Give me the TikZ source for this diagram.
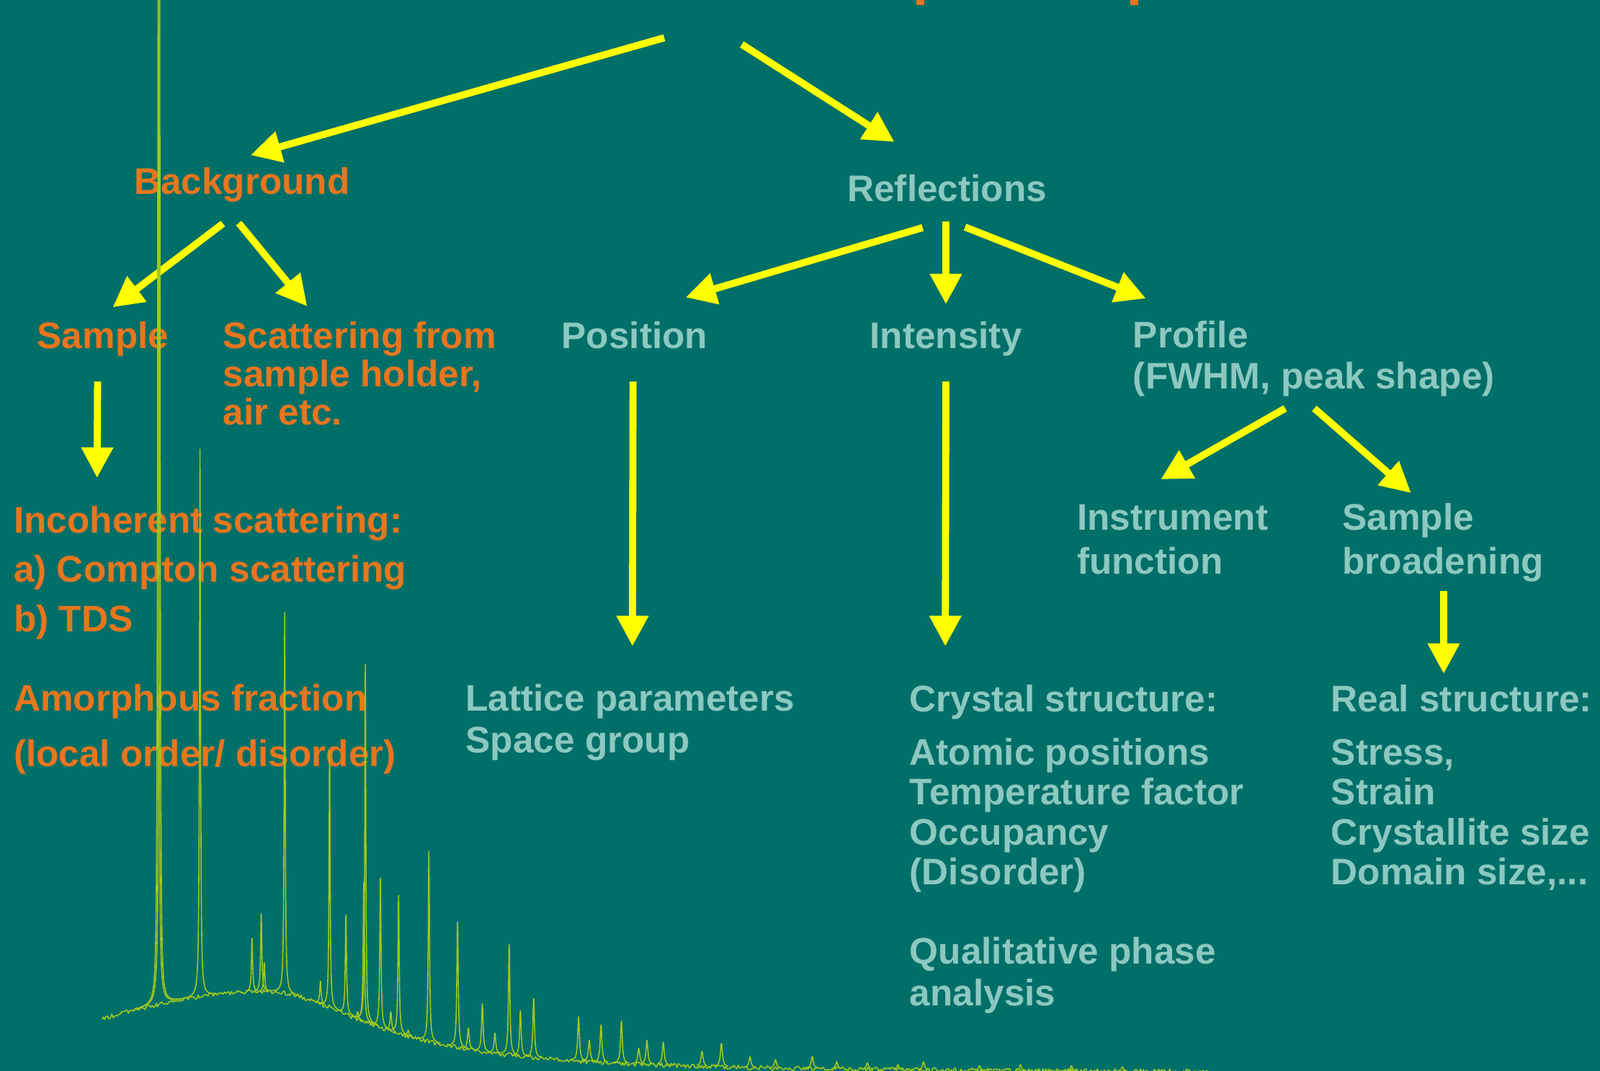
\documentclass[tikz,border=0pt]{standalone}
\usepackage{fontspec}
\setmainfont{Liberation Sans}
\usetikzlibrary{arrows.meta,calc}
\definecolor{bgteal}{RGB}{0,111,104}
\definecolor{hdorange}{RGB}{232,118,30}
\definecolor{lightteal}{RGB}{140,200,192}
\definecolor{arryellow}{RGB}{255,255,0}
\definecolor{specgreen}{RGB}{160,200,30}
\begin{document}
\begin{tikzpicture}[x=0.014165cm,y=-0.014165cm,
  lbl/.style={anchor=base west, inner sep=0pt, align=left,
    font=\fontsize{14.6}{#1}\selectfont\bfseries},
  lbl/.default=16,
  bgtxt/.style={lbl=#1, text=hdorange},
  bgtxt/.default=16,
  rftxt/.style={lbl=#1, text=lightteal},
  rftxt/.default=16,
  arr/.style={draw=arryellow, line width=2.8pt, -{Triangle[length=12pt,width=12pt]}},
  spec/.style={draw=specgreen, line width=0.45pt, line join=round},
  declare function={bgline(\x)=(\x<260)*(1051-80*exp(-((\x-260)/250)^2))+(\x>=260)*(1051-80/(1+((\x-260)/127)^2));}]
\useasboundingbox (0,0) rectangle (1568,1049);
\fill[bgteal] (0,0) rectangle (1568,1049);
% foot of the cut-off title
\fill[hdorange] (898,0) rectangle (905.5,4.7);
\fill[hdorange] (1108,0) rectangle (1115.5,4.7);
\coordinate (tl) at (651,37);
\coordinate (tr) at (727,43.5);
% first level
\node[bgtxt] (bg) at (131,190) {Background};
\node[rftxt] (refl) at (830,197) {Reflections};
% second level (multi-line nodes sit on their last line)
\node[bgtxt] (smp) at (36,341) {Sample};
\node[bgtxt=15.1pt] (scat) at (218,416.5) {Scattering from\\sample holder,\\air etc.};
\node[rftxt] (pos) at (550,341) {Position};
\node[rftxt] (int) at (852,341) {Intensity};
\node[rftxt=16.3pt] (prof) at (1110,381) {Profile\\(FWHM, peak shape)};
\node[rftxt=17.5pt] (instr) at (1055,562.5) {Instrument\\function};
\node[rftxt=17.5pt] (broad) at (1315,562.5) {Sample\\broadening};
% results
\node[bgtxt=19.4pt] (incoh) at (13,618.5) {Incoherent scattering:\\a) Compton scattering\\b) TDS};
\node[bgtxt=21.9pt] (amor) at (13,751) {Amorphous fraction\\(local order/ disorder)};
\node[rftxt=16.6pt] (latt) at (456,737.5) {Lattice parameters\\Space group};
\node[rftxt] (crys) at (891,697) {Crystal structure:};
\node[rftxt=15.7pt] (atom) at (891,866.5) {Atomic positions\\Temperature factor\\Occupancy\\(Disorder)};
\node[rftxt=16.3pt] (qual) at (891,985) {Qualitative phase\\analysis};
\node[rftxt] (real) at (1304,697) {Real structure:};
\node[rftxt=15.7pt] (strs) at (1304,866.5) {Stress,\\Strain\\Crystallite size\\Domain size,...};
% arrows
\draw[arr] (tl) -- ($(bg.base)+(8.4,-38)$);
\draw[arr] (tr) -- ($(refl.base)+(-51.6,-58)$);
\draw[arr] ($(bg.base)+(-18.7,29)$) -- ($(smp.base)+(9.5,-40)$);
\draw[arr] ($(bg.base)+(-3.2,28.5)$) -- ($(scat.base west)+(83,-116.5)$);
\draw[arr] ($(refl.base)+(-24,26)$) -- ($(pos.base)+(49.9,-49.7)$);
\draw[arr] ($(refl.base)+(-1.2,20)$) -- ($(int.base)+(0,-43)$);
\draw[arr] ($(refl.base)+(17.6,25.4)$) -- ($(prof.base west)+(13,-88.7)$);
\draw[arr] ($(smp.base)+(-5.3,32.7)$) -- ($(incoh.base west)+(82.1,-150.5)$);
\draw[arr] ($(pos.base)+(-1.6,32.7)$) -- ($(latt.base west)+(163.8,-104.5)$);
\draw[arr] ($(int.base)+(0,32.7)$) -- ($(crys.base west)+(35.4,-64)$);
\draw[arr] ($(prof.base west)+(149.5,19)$) -- ($(instr.base west)+(82.5,-93)$);
\draw[arr] ($(prof.base west)+(178,19)$) -- ($(broad.base west)+(67.9,-79.6)$);
\draw[arr] ($(broad.base west)+(99.8,16.4)$) -- ($(real.base west)+(110.8,-37)$);
% powder pattern behind the tree
\begin{scope}
\clip (0,0) rectangle (1568,1049);
\draw[spec] plot[domain=100:1190, samples=800] (\x,{bgline(\x)+2.2*rand});
\foreach \xo/\yt/\w in {155/-120/0.6, 156.4/-120/0.6, 196/440/0.6, 247/919/0.7, 256/895/0.7,
    259/943/0.7, 279/600/0.6, 314/961/0.8, 323/735/0.6, 339/896/0.7, 350.6/991/0.9,
    356.5/865/0.7, 358/651/0.6, 372.8/860/0.7, 383/991/0.9, 390.6/877/0.7, 400/1009/0.9,
    420.3/834/0.7, 448.4/903/0.8, 459/1007/1, 472.7/983/0.9, 485/1012/1, 499/925/0.8,
    510/990/0.9, 523/978/0.9, 567/996/1, 577.5/1019/1.1, 589/1004/1, 609/1000/1,
    626/1027/1.2, 634/1019/1.1, 650/1021/1.1, 688/1030/1.2, 707/1022/1.2, 735/1035/1.2,
    760/1038/1.2, 796/1035/1.3, 820/1040/1.2, 850/1041/1.2, 880/1043/1.2, 905/1040/1.2,
    960/1044/1.2, 1000/1043/1.2, 1050/1044/1.2, 1100/1045/1.2} {
  \pgfmathsetmacro\hh{bgline(\xo)-\yt}
  \pgfmathsetmacro\dw{max(5,min(32,\w*sqrt(\hh/0.7)))}
  \pgfmathsetmacro\da{\xo-\dw}
  \pgfmathsetmacro\db{\xo+\dw}
  \draw[spec] plot[domain=\da:\db, samples=121] (\x,{bgline(\x)-\hh*\w*\w/((\x-\xo)^2+\w*\w)});
}
\end{scope}
\end{tikzpicture}
\end{document}
